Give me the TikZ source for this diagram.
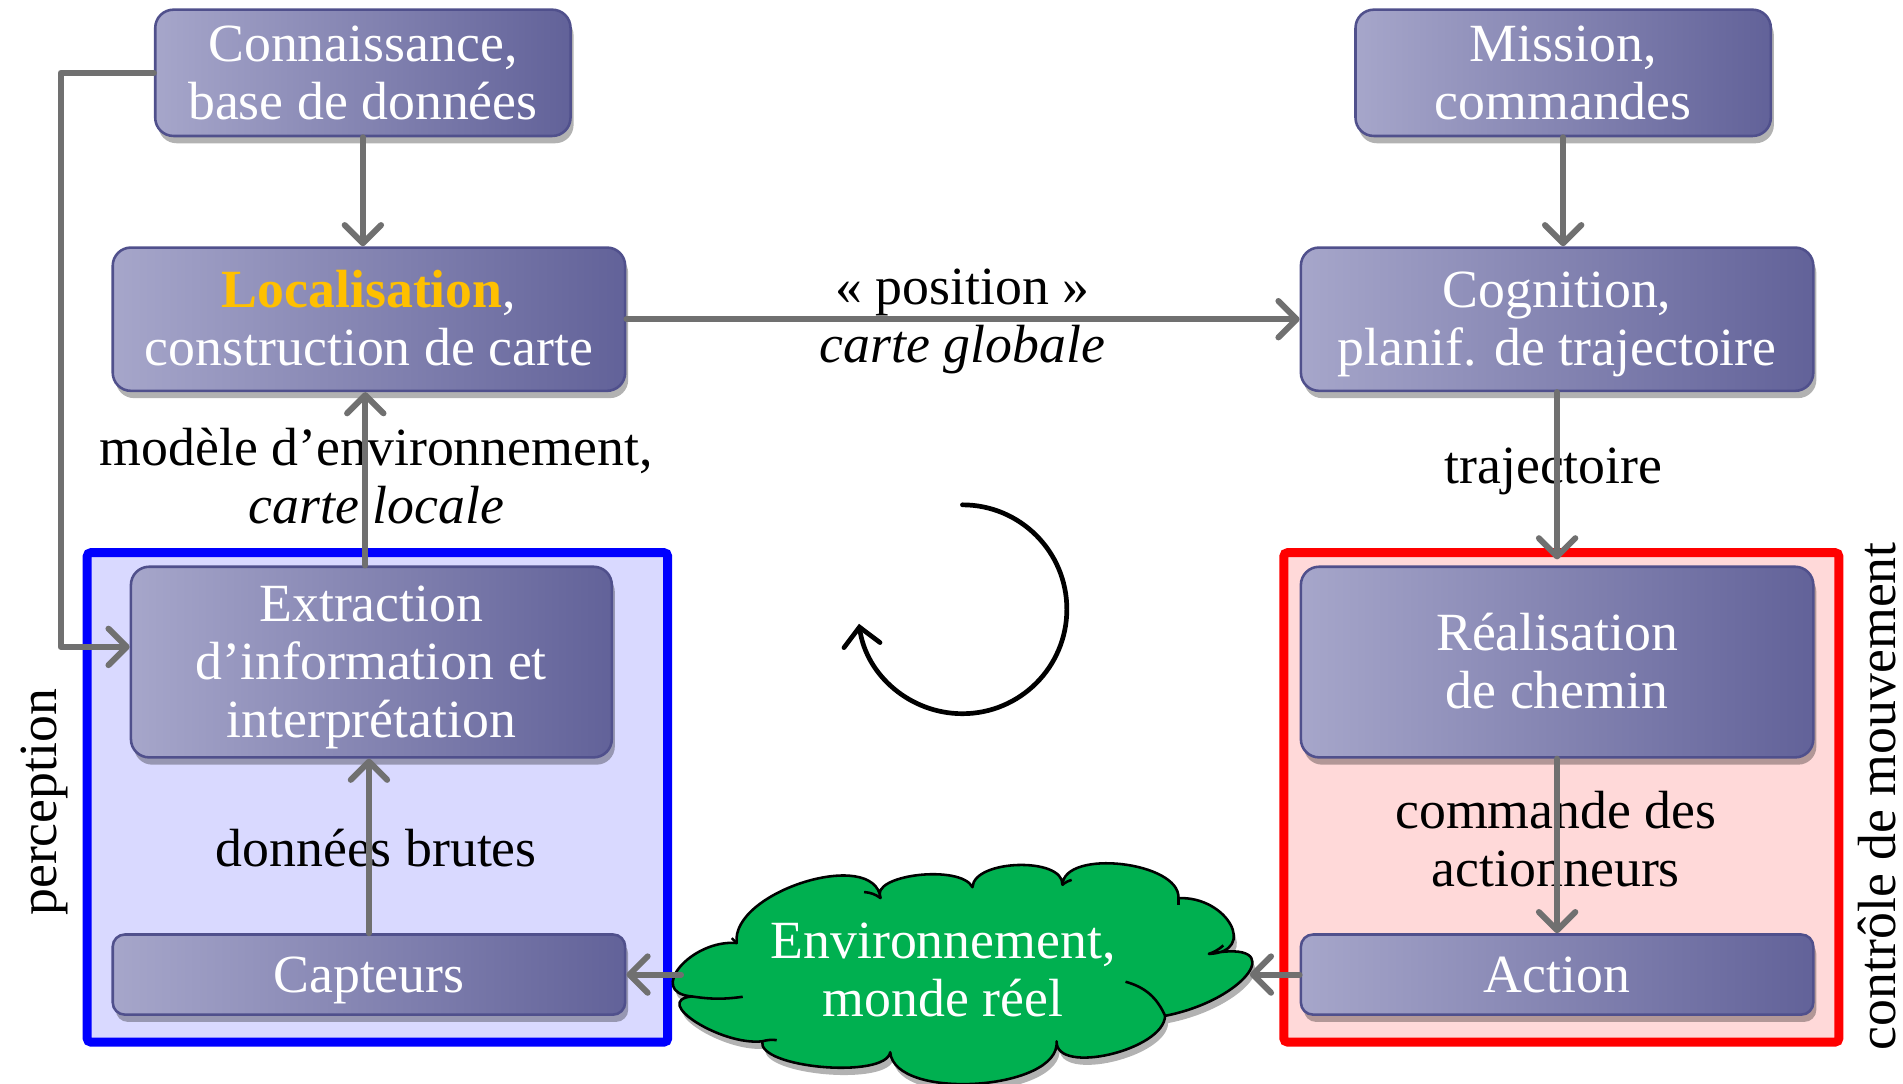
\documentclass[tikz,border=0pt]{standalone}
\usepackage{fontspec}
\setmainfont{Liberation Serif}
\usetikzlibrary{arrows.meta,shadows,calc}
\definecolor{boxL}{HTML}{A6A6CA}
\definecolor{boxR}{HTML}{626299}
\definecolor{boxB}{HTML}{50508C}
\definecolor{arrgray}{HTML}{707070}
\definecolor{gold}{HTML}{FFC000}
\definecolor{percfill}{HTML}{D9D9FF}
\definecolor{ctrlfill}{HTML}{FFD9D9}
\definecolor{cloudgreen}{HTML}{00B050}
\newcommand{\txt}{\fontsize{12.6}{13.6}\selectfont}
\newcommand{\hs}{\rule{0pt}{11.5pt}}
\newcommand{\ds}{\rule[-3.2pt]{0pt}{3.2pt}}
\newcommand{\puff}[3]{.. controls ($0.2333*(#1)+1.5333*(#2)-0.7667*(#3)$) and ($0.2333*(#3)+1.5333*(#2)-0.7667*(#1)$) .. (#3)}
\tikzset{
  box/.style={rectangle, rounded corners=0.15cm, draw=boxB, line width=0.6pt,
    left color=boxL, right color=boxR, text=white, align=center, inner sep=0pt,
    font=\txt,
    drop shadow={shadow xshift=0.25mm, shadow yshift=-0.6mm, fill=black, opacity=0.3}},
  frame/.style={rectangle, rounded corners=0.03cm, line width=2.1pt, inner sep=0pt},
  lab/.style={text=black, align=center, font=\txt, inner sep=0pt},
  arr/.style={draw=arrgray, line width=1.4pt, line cap=round, line join=round,
    -{Straight Barb[length=1.5mm, width=3mm, line cap=round, line join=round]}},
  tail/.style={draw=black, line width=0.6pt},
}
\begin{document}
\begin{tikzpicture}[x=0.01cm, y=-0.01cm]
\useasboundingbox (0,0) rectangle (1568,893);

% frames
\node[frame, draw=blue, fill=percfill, minimum width=4.78cm, minimum height=4.03cm] (perc) at (311,657) {};
\node[frame, draw=red, fill=ctrlfill, minimum width=4.57cm, minimum height=4.03cm] (ctrl) at (1286.5,657) {};
\node[lab, rotate=90] (perclab) at (37,661) {perception};
\node[lab, rotate=90] (ctrllab) at (1547,656) {contrôle de mouvement};

% boxes
\node[box, minimum width=3.42cm, minimum height=1.04cm] (conn) at (299,60) {\hs Connaissance,\\base de données\ds};
\node[box, minimum width=3.42cm, minimum height=1.04cm] (miss) at (1288,60) {\hs Mission,\\commandes\ds};
\node[box, minimum width=4.22cm, minimum height=1.18cm] (loc) at (304,263) {\hs\textbf{\textcolor{gold}{Localisation}},\\construction de carte\ds};
\node[box, minimum width=4.22cm, minimum height=1.18cm] (cogn) at (1283,263) {\hs Cognition,\\planif. de trajectoire\ds};
\node[box, minimum width=3.96cm, minimum height=1.57cm] (extr) at (306,545.5) {\hs Extraction\\d’information et\\interprétation\ds};
\node[box, minimum width=4.22cm, minimum height=1.57cm] (real) at (1283,545.5) {\hs Réalisation\\de chemin\ds};
\node[box, rounded corners=0.1cm, minimum width=4.22cm, minimum height=0.66cm] (capt) at (304,803) {\hs Capteurs\ds};
\node[box, rounded corners=0.1cm, minimum width=4.22cm, minimum height=0.66cm] (act) at (1283,803) {\hs Action\ds};

% cloud
\node[minimum width=4.63cm, minimum height=1.8cm, inner sep=0pt] (env) at (793.5,803) {};
\coordinate (J1) at (607,777);  \coordinate (P1) at (663,731);
\coordinate (J2) at (725.6,740);  \coordinate (P2) at (757.1,723.0);
\coordinate (J3) at (801.3,731);  \coordinate (P3) at (839.1,715);
\coordinate (J4) at (875.4,729);  \coordinate (P4) at (924.3,715);
\coordinate (J5) at (971,740);  \coordinate (P5) at (1010,762);
\coordinate (J6) at (996,786);  \coordinate (P6) at (1022,803.0);
\coordinate (J7) at (960,837);  \coordinate (P7) at (914.8,866.0);
\coordinate (J8) at (870.6,858);  \coordinate (P8) at (804.4,889.0);
\coordinate (J9) at (733.5,867);  \coordinate (P9) at (678.3,877.0);
\coordinate (J10) at (628,858); \coordinate (P10) at (577,842);
\coordinate (J11) at (570,821); \coordinate (P11) at (564,797);
\path[fill=cloudgreen, draw=black, line width=0.6pt, line join=round,
  drop shadow={shadow xshift=0.25mm, shadow yshift=-0.6mm, fill=black, opacity=0.3}]
  (J1) \puff{J1}{P1}{J2} \puff{J2}{P2}{J3} \puff{J3}{P3}{J4} \puff{J4}{P4}{J5}
  \puff{J5}{P5}{J6} \puff{J6}{P6}{J7} \puff{J7}{P7}{J8} \puff{J8}{P8}{J9}
  \puff{J9}{P9}{J10} \puff{J10}{P10}{J11} \puff{J11}{P11}{J1} -- cycle;
\draw[tail] (J2) to[bend right=15] (712,735);
\draw[tail] (J4) to[bend left=10] (883,725);
\draw[tail] (J5) -- (971,746);
\draw[tail] (J6) to[bend right=10] (1008,779);
\draw[tail] (J7) to[bend right=25] (927.4,808.9);
\draw[tail] (J10) to[bend left=10] (640,857);
\draw[tail] (J11) to[bend right=8] (612,821.3);
\draw[tail] (J1) -- (603,773);
\node[lab, text=white] (envtxt) at (777,799) {\hs Environnement,\\monde réel\ds};

% labels
\node[lab] (posl) at (793,236) {\hs« position »\ds};
\node[lab] (cgl) at (793,284) {\hs\textit{carte globale}\ds};
\node[lab] (trajl) at (1280,384) {\hs trajectoire\ds};
\node[lab] (cmdl) at (1282,692) {\hs commande des\\actionneurs\ds};
\node[lab] (dbl) at (310,699) {\hs données brutes\ds};
\node[lab] (modl) at (310,393) {\hs modèle d’environnement,\\\textit{carte locale}\ds};

% connectors
\draw[arr] (conn.south) -- (loc.north -| conn.south);
\draw[arr] (miss.south) -- (cogn.north -| miss.south);
\draw[arr] (loc.east) -- (cogn.west);
\draw[arr] (cogn.south) -- ([yshift=0.05cm]real.north);
\draw[arr] (real.south) -- (act.north);
\draw[arr] (act.west) -- ([xshift=0.04cm]env.east);
\draw[arr] (env.west) -- (capt.east);
\draw[arr] (capt.north) -- (extr.south -| capt.north);
\draw[arr] (extr.north -| 301,0) -- (loc.south -| 301,0);
\coordinate (lc) at (50,533);
\draw[arr] (conn.west) -| (lc) -- (lc -| extr.west);

% cycle arrow
\coordinate (rc) at (793,502);
\draw[line width=1.1pt, line cap=round, -{Straight Barb[length=1.5mm, width=3mm, line cap=round]}]
  ([yshift=0.86cm]rc) arc[start angle=90, end angle=-172, radius=0.86cm];
\end{tikzpicture}
\end{document}
